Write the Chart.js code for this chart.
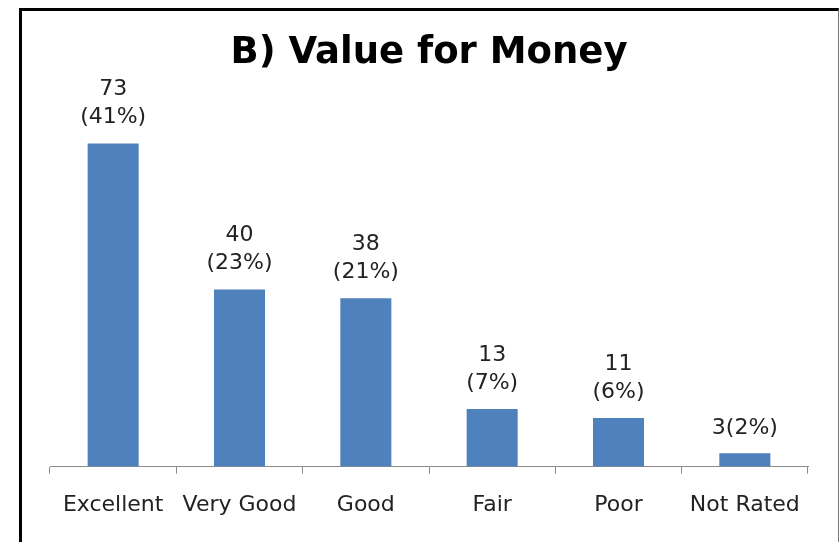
<!DOCTYPE html>
<html>
<head>
<meta charset="utf-8">
<script src="https://cdn.jsdelivr.net/npm/chart.js@4"></script>
<style>
  html, body { margin: 0; padding: 0; background: #fff; }
  #wrap { position: relative; width: 840px; height: 542px; }
  #frame {
    position: absolute; left: 19px; top: 8px; width: 816px; height: 540px;
    border-top: 3px solid #000; border-left: 3px solid #000; border-right: 1px solid #777;
    pointer-events: none;
  }
</style>
</head>
<body>
<div id="wrap">
  <canvas id="chart" width="840" height="542"></canvas>
  <div id="frame"></div>
</div>
<script>
// 数据
const categories = ['Excellent', 'Very Good', 'Good', 'Fair', 'Poor', 'Not Rated'];
const counts = [73, 40, 38, 13, 11, 3];
const percents = ['41%', '23%', '21%', '7%', '6%', '2%'];
// last bar has its label on one line
const oneLine = [false, false, false, false, false, true];

const font = '"DejaVu Sans", sans-serif';

// 柱顶文字
const barLabels = {
  id: 'barLabels',
  afterDatasetsDraw(chart) {
    const ctx = chart.ctx;
    const meta = chart.getDatasetMeta(0);
    ctx.save();
    ctx.font = '22px ' + font;
    ctx.fillStyle = '#222';
    ctx.textAlign = 'center';
    ctx.textBaseline = 'middle';
    meta.data.forEach((bar, i) => {
      if (oneLine[i]) {
        ctx.fillText(counts[i] + '(' + percents[i] + ')', bar.x, bar.y - 25);
      } else {
        ctx.fillText('(' + percents[i] + ')', bar.x, bar.y - 26);
        ctx.fillText(String(counts[i]), bar.x, bar.y - 54);
      }
    });
    ctx.restore();
  }
};

new Chart(document.getElementById('chart'), {
  type: 'bar',
  data: {
    labels: categories,
    datasets: [{
      data: counts,
      backgroundColor: '#4f81bd',
      borderWidth: 0,
      categoryPercentage: 1,
      barPercentage: 0.404
    }]
  },
  options: {
    responsive: false,
    animation: false,
    layout: { padding: { left: 50, right: 32, top: 0, bottom: 6 } },
    scales: {
      x: {
        offset: true,
        border: { display: true, color: '#8a8a8a', width: 1 },
        grid: { display: true, drawOnChartArea: false, offset: true, tickLength: 7, color: '#8a8a8a' },
        ticks: { color: '#222', padding: 18, maxRotation: 0, autoSkip: false, font: { family: font, size: 22 } }
      },
      y: { display: false, min: 0, max: 80 }
    },
    plugins: {
      legend: { display: false },
      tooltip: { enabled: false },
      title: {
        display: true,
        text: 'B) Value for Money',
        color: '#000',
        font: { family: font, size: 37, weight: 'bold' },
        padding: { top: 31, bottom: 37 }
      }
    }
  },
  plugins: [barLabels]
});
</script>
</body>
</html>
